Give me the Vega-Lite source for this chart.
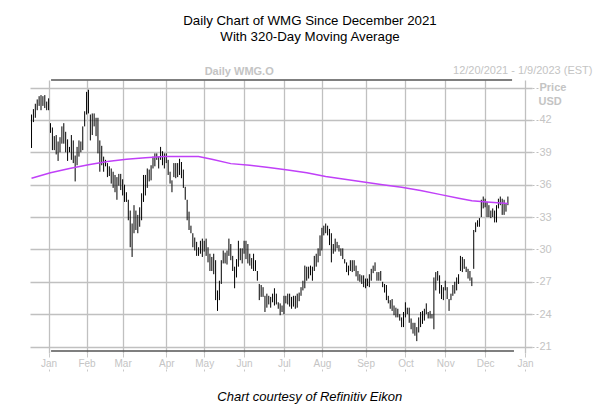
{
  "$schema": "https://vega.github.io/schema/vega-lite/v6.json",
  "width": 502,
  "height": 273,
  "autosize": {"type": "none"},
  "padding": {"left": 30, "top": 80, "right": 76, "bottom": 58},
  "background": "white",
  "config": {"view": {"stroke": null}, "font": "Liberation Sans"},
  "title": {
    "text": "Daily Chart of WMG Since December 2021",
    "subtitle": "With 320-Day Moving Average",
    "anchor": "middle",
    "frame": "group",
    "dx": 29,
    "offset": 21,
    "font": "Liberation Sans",
    "fontSize": 13.3,
    "fontWeight": "normal",
    "color": "black",
    "subtitleFont": "Liberation Sans",
    "subtitleFontSize": 13.3,
    "subtitleColor": "black",
    "subtitlePadding": 2
  },
  "datasets": {
    "bars": [
      {"i":0,"h":42.5,"l":39.4},{"i":1,"h":43.0,"l":41.8},{"i":2,"h":43.5,"l":42.2},{"i":3,"h":43.9,"l":42.9},{"i":4,"h":44.2,"l":43.3},
      {"i":5,"h":44.3,"l":42.9},{"i":6,"h":44.2,"l":43.3},{"i":7,"h":44.3,"l":43.1},{"i":8,"h":43.7,"l":42.9},{"i":9,"h":44.0,"l":42.9},
      {"i":10,"h":41.7,"l":40.8},{"i":11,"h":41.3,"l":39.2},{"i":12,"h":40.5,"l":39.2},{"i":13,"h":40.6,"l":38.8},{"i":14,"h":40.0,"l":38.2},
      {"i":15,"h":40.4,"l":39.0},{"i":16,"h":41.4,"l":39.8},{"i":17,"h":41.7,"l":39.8},{"i":18,"h":40.9,"l":39.0},{"i":19,"h":40.2,"l":38.2},
      {"i":20,"h":39.5,"l":39.0},{"i":21,"h":40.6,"l":38.3},{"i":22,"h":40.1,"l":38.0},{"i":23,"h":38.7,"l":36.3},{"i":24,"h":39.5,"l":37.8},
      {"i":25,"h":40.1,"l":38.6},{"i":26,"h":40.0,"l":39.0},{"i":27,"h":41.4,"l":39.2},{"i":28,"h":42.8,"l":41.4},{"i":29,"h":44.6,"l":42.5},
      {"i":30,"h":44.8,"l":42.6},{"i":31,"h":42.5,"l":40.1},{"i":32,"h":42.6,"l":40.6},{"i":33,"h":42.6,"l":41.4},{"i":34,"h":42.2,"l":40.5},
      {"i":35,"h":42.2,"l":38.9},{"i":36,"h":40.1,"l":37.2},{"i":37,"h":39.6,"l":37.8},{"i":38,"h":38.6,"l":37.2},{"i":39,"h":38.3,"l":37.7},
      {"i":40,"h":38.0,"l":36.7},{"i":41,"h":37.7,"l":36.8},{"i":42,"h":37.5,"l":36.1},{"i":43,"h":37.2,"l":35.7},{"i":44,"h":36.9,"l":35.3},
      {"i":45,"h":36.7,"l":34.6},{"i":46,"h":37.0,"l":35.9},{"i":47,"h":37.0,"l":35.5},{"i":48,"h":36.5,"l":35.0},{"i":49,"h":36.0,"l":34.4},
      {"i":50,"h":35.3,"l":34.4},{"i":51,"h":34.6,"l":32.7},{"i":52,"h":33.6,"l":30.2},{"i":53,"h":32.4,"l":29.3},{"i":54,"h":34.1,"l":31.5},
      {"i":55,"h":33.6,"l":31.8},{"i":56,"h":33.2,"l":31.5},{"i":57,"h":33.9,"l":32.1},{"i":58,"h":35.2,"l":32.7},{"i":59,"h":36.9,"l":34.4},
      {"i":60,"h":36.9,"l":35.0},{"i":61,"h":37.5,"l":35.7},{"i":62,"h":37.4,"l":36.3},{"i":63,"h":37.8,"l":36.4},{"i":64,"h":38.6,"l":37.5},
      {"i":65,"h":38.9,"l":37.7},{"i":66,"h":38.9,"l":38.3},{"i":67,"h":38.6,"l":37.5},{"i":68,"h":39.5,"l":38.3},{"i":69,"h":39.1,"l":37.8},
      {"i":70,"h":38.9,"l":37.5},{"i":71,"h":38.9,"l":38.0},{"i":72,"h":38.3,"l":36.9},{"i":73,"h":37.2,"l":36.1},{"i":74,"h":36.4,"l":35.3},
      {"i":75,"h":38.0,"l":36.7},{"i":76,"h":38.0,"l":36.6},{"i":77,"h":38.0,"l":36.7},{"i":78,"h":38.4,"l":36.9},{"i":79,"h":38.1,"l":36.6},
      {"i":80,"h":37.4,"l":35.7},{"i":81,"h":35.8,"l":34.6},{"i":82,"h":34.6,"l":32.7},{"i":83,"h":33.5,"l":31.8},{"i":84,"h":32.2,"l":31.5},
      {"i":85,"h":31.5,"l":30.2},{"i":86,"h":31.1,"l":29.9},{"i":87,"h":30.7,"l":29.4},{"i":88,"h":30.2,"l":29.4},{"i":89,"h":30.8,"l":29.6},
      {"i":90,"h":31.0,"l":29.3},{"i":91,"h":30.8,"l":29.8},{"i":92,"h":31.0,"l":29.4},{"i":93,"h":30.2,"l":28.8},{"i":94,"h":29.6,"l":28.0},
      {"i":95,"h":29.3,"l":28.0},{"i":96,"h":29.6,"l":27.7},{"i":97,"h":29.0,"l":25.3},{"i":98,"h":26.2,"l":24.3},{"i":99,"h":27.1,"l":25.3},
      {"i":100,"h":29.0,"l":26.8},{"i":101,"h":29.9,"l":28.7},{"i":102,"h":29.7,"l":28.7},{"i":103,"h":29.9,"l":28.6},{"i":104,"h":31.0,"l":29.4},
      {"i":105,"h":30.5,"l":29.0},{"i":106,"h":29.4,"l":28.0},{"i":107,"h":28.4,"l":26.4},{"i":108,"h":29.1,"l":27.4},{"i":109,"h":30.8,"l":28.4},
      {"i":110,"h":30.1,"l":29.0},{"i":111,"h":30.1,"l":28.7},{"i":112,"h":30.8,"l":29.6},{"i":113,"h":30.8,"l":29.1},{"i":114,"h":30.5,"l":28.7},
      {"i":115,"h":29.6,"l":28.5},{"i":116,"h":29.2,"l":28.2},{"i":117,"h":29.6,"l":28.0},{"i":118,"h":29.0,"l":28.0},{"i":119,"h":28.0,"l":27.1},
      {"i":120,"h":26.8,"l":25.3},{"i":121,"h":26.7,"l":25.6},{"i":122,"h":26.5,"l":25.6},{"i":123,"h":25.7,"l":24.2},{"i":124,"h":25.9,"l":24.6},
      {"i":125,"h":25.7,"l":24.9},{"i":126,"h":25.6,"l":24.6},{"i":127,"h":25.9,"l":25.1},{"i":128,"h":26.4,"l":24.8},{"i":129,"h":25.9,"l":24.9},
      {"i":130,"h":25.1,"l":24.5},{"i":131,"h":25.0,"l":23.9},{"i":132,"h":24.8,"l":24.2},{"i":133,"h":25.7,"l":24.0},{"i":134,"h":25.7,"l":25.0},
      {"i":135,"h":25.9,"l":24.9},{"i":136,"h":25.9,"l":24.7},{"i":137,"h":25.6,"l":24.5},{"i":138,"h":25.7,"l":24.7},{"i":139,"h":25.7,"l":24.5},
      {"i":140,"h":25.9,"l":24.6},{"i":141,"h":26.0,"l":25.2},{"i":142,"h":26.5,"l":25.7},{"i":143,"h":27.1,"l":26.2},{"i":144,"h":28.5,"l":26.4},
      {"i":145,"h":28.4,"l":27.1},{"i":146,"h":28.4,"l":27.3},{"i":147,"h":28.5,"l":27.6},{"i":148,"h":28.4,"l":27.1},{"i":149,"h":29.4,"l":28.0},
      {"i":150,"h":29.6,"l":28.4},{"i":151,"h":30.1,"l":28.8},{"i":152,"h":31.3,"l":29.4},{"i":153,"h":32.0,"l":29.9},{"i":154,"h":32.2,"l":31.3},
      {"i":155,"h":32.4,"l":31.5},{"i":156,"h":32.2,"l":31.3},{"i":157,"h":31.9,"l":30.4},{"i":158,"h":31.5,"l":28.8},{"i":159,"h":30.5,"l":29.6},
      {"i":160,"h":31.0,"l":29.8},{"i":161,"h":30.7,"l":30.1},{"i":162,"h":30.4,"l":29.8},{"i":163,"h":30.1,"l":29.4},{"i":164,"h":30.1,"l":29.1},
      {"i":165,"h":29.1,"l":28.7},{"i":166,"h":28.8,"l":27.9},{"i":167,"h":28.5,"l":27.6},{"i":168,"h":29.0,"l":28.0},{"i":169,"h":29.0,"l":27.9},
      {"i":170,"h":29.0,"l":28.0},{"i":171,"h":28.5,"l":27.5},{"i":172,"h":28.0,"l":27.1},{"i":173,"h":27.7,"l":27.0},{"i":174,"h":27.6,"l":26.8},
      {"i":175,"h":27.6,"l":26.5},{"i":176,"h":27.3,"l":26.4},{"i":177,"h":27.3,"l":26.6},{"i":178,"h":27.7,"l":26.5},{"i":179,"h":28.2,"l":27.1},
      {"i":180,"h":28.5,"l":27.8},{"i":181,"h":28.8,"l":28.0},{"i":182,"h":27.9,"l":27.1},{"i":183,"h":27.9,"l":27.1},{"i":184,"h":28.0,"l":27.1},
      {"i":185,"h":27.0,"l":26.5},{"i":186,"h":26.8,"l":26.0},{"i":187,"h":26.7,"l":25.3},{"i":188,"h":25.7,"l":25.0},{"i":189,"h":25.3,"l":24.5},
      {"i":190,"h":25.4,"l":24.3},{"i":191,"h":24.8,"l":23.9},{"i":192,"h":24.6,"l":23.7},{"i":193,"h":24.5,"l":23.7},{"i":194,"h":24.0,"l":23.4},
      {"i":195,"h":23.7,"l":22.8},{"i":196,"h":24.2,"l":22.8},{"i":197,"h":25.1,"l":23.7},{"i":198,"h":24.6,"l":24.0},{"i":199,"h":24.6,"l":23.2},
      {"i":200,"h":23.6,"l":22.6},{"i":201,"h":23.2,"l":22.2},{"i":202,"h":23.2,"l":22.0},{"i":203,"h":22.8,"l":21.5},{"i":204,"h":23.7,"l":22.3},
      {"i":205,"h":24.2,"l":22.8},{"i":206,"h":24.3,"l":23.1},{"i":207,"h":24.5,"l":23.4},{"i":208,"h":25.0,"l":24.0},{"i":209,"h":24.2,"l":23.6},
      {"i":210,"h":24.3,"l":23.6},{"i":211,"h":24.0,"l":23.6},{"i":212,"h":27.4,"l":22.6},{"i":213,"h":27.9,"l":26.2},{"i":214,"h":28.0,"l":27.1},
      {"i":215,"h":27.6,"l":25.9},{"i":216,"h":26.7,"l":25.4},{"i":217,"h":26.5,"l":25.3},{"i":218,"h":27.1,"l":26.2},{"i":219,"h":26.5,"l":25.4},
      {"i":220,"h":25.4,"l":24.3},{"i":221,"h":25.9,"l":25.3},{"i":222,"h":26.7,"l":25.7},{"i":223,"h":27.0,"l":25.9},{"i":224,"h":27.4,"l":26.2},
      {"i":225,"h":27.7,"l":26.8},{"i":226,"h":29.4,"l":28.0},{"i":227,"h":29.3,"l":27.9},{"i":228,"h":29.1,"l":28.2},{"i":229,"h":28.4,"l":27.9},
      {"i":230,"h":28.2,"l":27.3},{"i":231,"h":28.0,"l":27.1},{"i":232,"h":27.4,"l":26.6},{"i":233,"h":31.8,"l":28.2},{"i":234,"h":32.5,"l":31.6},
      {"i":235,"h":32.7,"l":32.1},{"i":236,"h":32.9,"l":32.1},{"i":237,"h":34.6,"l":33.0},{"i":238,"h":34.9,"l":33.8},{"i":239,"h":34.7,"l":33.9},
      {"i":240,"h":34.4,"l":33.0},{"i":241,"h":34.1,"l":33.0},{"i":242,"h":33.6,"l":32.9},{"i":243,"h":33.8,"l":33.0},{"i":244,"h":33.6,"l":32.5},
      {"i":245,"h":34.1,"l":32.5},{"i":246,"h":34.7,"l":33.8},{"i":247,"h":34.9,"l":34.1},{"i":248,"h":34.7,"l":33.2},{"i":249,"h":34.6,"l":33.2},
      {"i":250,"h":34.3,"l":33.5},{"i":251,"h":34.9,"l":34.1}
    ],
    "ma": [
      {"i":0,"ma":36.6},{"i":10,"ma":37.1},{"i":20,"ma":37.5},{"i":30,"ma":37.85},{"i":40,"ma":38.15},{"i":50,"ma":38.35},
      {"i":60,"ma":38.5},{"i":70,"ma":38.6},{"i":80,"ma":38.62},{"i":88,"ma":38.6},{"i":95,"ma":38.35},{"i":105,"ma":37.95},
      {"i":115,"ma":37.8},{"i":125,"ma":37.6},{"i":135,"ma":37.35},{"i":145,"ma":37.1},{"i":155,"ma":36.75},{"i":165,"ma":36.5},
      {"i":175,"ma":36.25},{"i":185,"ma":36.0},{"i":195,"ma":35.75},{"i":205,"ma":35.45},{"i":215,"ma":35.1},{"i":225,"ma":34.75},
      {"i":232,"ma":34.5},{"i":240,"ma":34.4},{"i":251,"ma":34.25}
    ],
    "frame": [
      {"x1":10.3,"x2":253.2,"y":45.7},
      {"x1":10.3,"x2":254.2,"y":20.58}
    ]
  },
  "resolve": {"axis": {"x": "independent", "y": "independent"}},
  "layer": [
    {
      "data": {"name": "bars"},
      "mark": {"type": "rule", "color": "black", "strokeWidth": 1},
      "encoding": {
        "x": {
          "field": "i", "type": "quantitative",
          "scale": {"domain": [-0.8, 263.7], "nice": false, "zero": false},
          "axis": {
            "orient": "bottom",
            "values": [9,29,48,71,91,112,133,153,176,197,218,239,260],
            "labelExpr": "['Jan','Feb','Mar','Apr','May','Jun','Jul','Aug','Sep','Oct','Nov','Dec','Jan'][indexof([9,29,48,71,91,112,133,153,176,197,218,239,260], datum.value)]",
            "grid": true, "gridColor": "#c0c0c0", "gridWidth": 1.3,
            "domain": false,
            "ticks": true, "tickSize": 18, "tickColor": "#c8c8c8", "tickDash": [4, 12, 2, 100],
            "labelPadding": -8, "labelBaseline": "middle", "labelFontSize": 10, "labelColor": "#c4c4c4",
            "labelFont": "Liberation Sans", "labelFlush": false, "labelOverlap": false,
            "title": "Chart courtesy of Refinitiv Eikon",
            "titleFont": "Liberation Sans", "titleFontSize": 13, "titleFontStyle": "italic", "titleFontWeight": "normal",
            "titleColor": "black", "titleX": 279.3, "titleY": 43.7, "titleBaseline": "middle"
          }
        },
        "y": {
          "field": "l", "type": "quantitative",
          "scale": {"domain": [20.4, 45.7], "nice": false, "zero": false},
          "axis": {
            "orient": "right",
            "values": [21,24,27,30,33,36,39,42,45],
            "labelExpr": "datum.value == 45 ? 'Price' : datum.label",
            "labelFontWeight": {"condition": {"test": "datum.value == 45", "value": "bold"}, "value": "normal"},
            "grid": true, "gridColor": "#c0c0c0", "gridWidth": 1.3,
            "domain": false,
            "tickSize": 6, "tickDash": [2, 2], "tickColor": "#c0c0c0",
            "labelPadding": 1, "labelFontSize": 11, "labelColor": "#c4c4c4", "labelFont": "Liberation Sans",
            "title": "USD", "titleAngle": 0, "titleX": 6, "titleY": 21.7, "titleAlign": "left", "titleBaseline": "middle",
            "titleFont": "Liberation Sans", "titleFontSize": 11, "titleFontWeight": "bold", "titleColor": "#c4c4c4"
          }
        },
        "y2": {"field": "h"}
      }
    },
    {
      "data": {"name": "ma"},
      "mark": {"type": "line", "color": "#C040F8", "strokeWidth": 1.5},
      "encoding": {
        "x": {
          "field": "i", "type": "quantitative",
          "axis": {
            "orient": "top", "grid": false, "labels": false, "ticks": false, "domain": false,
            "title": "Daily WMG.O", "titleX": 208.7, "titleY": -9, "titleBaseline": "middle",
            "titleFont": "Liberation Sans", "titleFontSize": 11, "titleFontWeight": "bold", "titleColor": "#c4c4c4"
          }
        },
        "y": {
          "field": "ma", "type": "quantitative",
          "axis": {
            "orient": "left", "grid": false, "labels": false, "ticks": false, "domain": false,
            "title": "12/20/2021 - 1/9/2023 (EST)", "titleAngle": 0, "titleX": 562, "titleY": -10,
            "titleAlign": "right", "titleBaseline": "middle",
            "titleFont": "Liberation Sans", "titleFontSize": 11, "titleFontWeight": "normal", "titleColor": "#c4c4c4"
          }
        }
      }
    },
    {
      "data": {"name": "frame"},
      "mark": {"type": "rule", "color": "#555555", "strokeWidth": 1.5},
      "encoding": {
        "x": {"field": "x1", "type": "quantitative", "axis": null},
        "x2": {"field": "x2"},
        "y": {"field": "y", "type": "quantitative", "axis": null}
      }
    }
  ]
}
